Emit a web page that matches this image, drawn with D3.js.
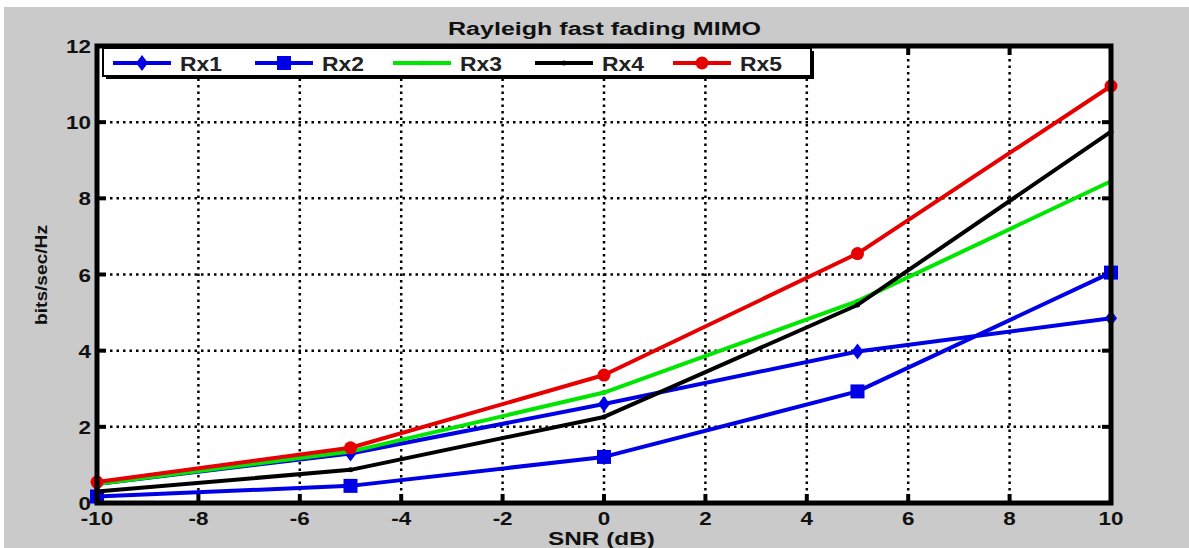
<!DOCTYPE html>
<html>
    <head>
        <title>Rayleigh fast fading MIMO</title>
        <script src="https://d3js.org/d3.v7.min.js"></script>
    </head>

    <body>
        <div id="root"></div>
    </body>

    <style>
body {
    margin: 0;
    background: #ffffff;
}
svg {
    display: block;
}
svg text {
    font-family: "Liberation Sans", Arial, sans-serif;
    font-weight: bold;
}
    </style>

    <script>
        let snr = [-10, -5, 0, 5, 10];
        let rx1 = [0.50, 1.30, 2.60, 3.98, 4.85];
        let rx2 = [0.17, 0.45, 1.21, 2.93, 6.05];
        let rx3 = [0.50, 1.35, 2.90, 5.30, 8.45];
        let rx4 = [0.30, 0.87, 2.26, 5.20, 9.75];
        let rx5 = [0.55, 1.45, 3.36, 6.55, 10.95];
        let series_names = ['Rx1', 'Rx2', 'Rx3', 'Rx4', 'Rx5'];
        let x_ticks = [-10, -8, -6, -4, -2, 0, 2, 4, 6, 8, 10];
        let y_ticks = [0, 2, 4, 6, 8, 10, 12];

        let series = [
            { name: series_names[0], values: rx1, color: '#0000e6', marker: 'diamond' },
            { name: series_names[1], values: rx2, color: '#0000e6', marker: 'square' },
            { name: series_names[2], values: rx3, color: '#00e600', marker: 'dot' },
            { name: series_names[3], values: rx4, color: '#000000', marker: 'dot' },
            { name: series_names[4], values: rx5, color: '#e60000', marker: 'circle' }
        ];

        let render_chart = () => {
            let width = 1189;
            let height = 548;
            let left = 97, right = 1111, top = 46, bottom = 503;
            let stretch = 1.18;

            let scale_x = d3.scaleLinear().domain([-10, 10]).range([left, right]);
            let scale_y = d3.scaleLinear().domain([0, 12]).range([bottom, top]);

            let svg = d3.select('#root').html('')
                .append('svg')
                .attr('width', width)
                .attr('height', height);

            // figure background
            svg.append('rect')
                .attr('x', 4).attr('y', 7)
                .attr('width', width - 4).attr('height', height - 7)
                .attr('fill', '#cacaca');

            svg.append('rect')
                .attr('x', left).attr('y', top)
                .attr('width', right - left).attr('height', bottom - top)
                .attr('fill', '#ffffff');

            // grid
            let grid = svg.append('g')
                .attr('stroke', '#000')
                .attr('stroke-width', 2.5)
                .attr('stroke-dasharray', '2.5,4');
            grid.selectAll('line.gx')
                .data(x_ticks.slice(1, -1))
                .join('line')
                .attr('class', 'gx')
                .attr('x1', d => scale_x(d)).attr('x2', d => scale_x(d))
                .attr('y1', top).attr('y2', bottom);
            grid.selectAll('line.gy')
                .data(y_ticks.slice(1, -1))
                .join('line')
                .attr('class', 'gy')
                .attr('x1', left).attr('x2', right)
                .attr('y1', d => scale_y(d)).attr('y2', d => scale_y(d));

            // inner ticks on all four sides
            let ticks = svg.append('g').attr('stroke', '#000').attr('stroke-width', 4);
            x_ticks.forEach(t => {
                ticks.append('line').attr('x1', scale_x(t)).attr('x2', scale_x(t)).attr('y1', bottom).attr('y2', bottom - 9);
                ticks.append('line').attr('x1', scale_x(t)).attr('x2', scale_x(t)).attr('y1', top).attr('y2', top + 9);
            });
            y_ticks.forEach(t => {
                ticks.append('line').attr('x1', left).attr('x2', left + 9).attr('y1', scale_y(t)).attr('y2', scale_y(t));
                ticks.append('line').attr('x1', right).attr('x2', right - 9).attr('y1', scale_y(t)).attr('y2', scale_y(t));
            });

            // lines
            let line = d3.line()
                .x((d, i) => scale_x(snr[i]))
                .y(d => scale_y(d));

            let draw_marker = (g, kind, x, y, color) => {
                if (kind === 'diamond') {
                    g.append('path')
                        .attr('d', `M${x},${y - 8}L${x + 6},${y}L${x},${y + 8}L${x - 6},${y}Z`)
                        .attr('fill', color);
                } else if (kind === 'square') {
                    g.append('rect')
                        .attr('x', x - 7).attr('y', y - 7)
                        .attr('width', 14).attr('height', 14)
                        .attr('fill', color);
                } else if (kind === 'circle') {
                    g.append('circle').attr('cx', x).attr('cy', y).attr('r', 6.5).attr('fill', color);
                } else {
                    g.append('circle').attr('cx', x).attr('cy', y).attr('r', 2.5).attr('fill', color);
                }
            };

            let plot = svg.append('g');
            series.forEach(s => {
                plot.append('path')
                    .datum(s.values)
                    .attr('d', line)
                    .attr('fill', 'none')
                    .attr('stroke', s.color)
                    .attr('stroke-width', 4)
                    .attr('stroke-linejoin', 'round');
                let mg = plot.append('g');
                s.values.forEach((v, i) => draw_marker(mg, s.marker, scale_x(snr[i]), scale_y(v), s.color));
            });

            // axes box
            svg.append('rect')
                .attr('x', left).attr('y', top)
                .attr('width', right - left).attr('height', bottom - top)
                .attr('fill', 'none')
                .attr('stroke', '#000')
                .attr('stroke-width', 5);

            // tick labels (the original figure is slightly stretched sideways)
            svg.append('g')
                .selectAll('text')
                .data(x_ticks)
                .join('text')
                .attr('transform', d => `translate(${scale_x(d)}, 525) scale(${stretch}, 1)`)
                .attr('text-anchor', 'middle')
                .attr('font-size', 19)
                .attr('fill', '#111')
                .text(d => d);
            svg.append('g')
                .selectAll('text')
                .data(y_ticks)
                .join('text')
                .attr('transform', d => `translate(91, ${scale_y(d) + 7}) scale(${stretch}, 1)`)
                .attr('text-anchor', 'end')
                .attr('font-size', 19)
                .attr('fill', '#111')
                .text(d => d);

            // titles
            svg.append('text')
                .attr('x', 448).attr('y', 35)
                .attr('font-size', 18)
                .attr('textLength', 313)
                .attr('lengthAdjust', 'spacingAndGlyphs')
                .attr('fill', '#111')
                .text('Rayleigh fast fading MIMO');
            svg.append('text')
                .attr('x', 548).attr('y', 545)
                .attr('font-size', 18)
                .attr('textLength', 107)
                .attr('lengthAdjust', 'spacingAndGlyphs')
                .attr('fill', '#111')
                .text('SNR (dB)');
            svg.append('text')
                .attr('transform', 'translate(47, 325) rotate(-90)')
                .attr('font-size', 17)
                .attr('textLength', 100)
                .attr('lengthAdjust', 'spacingAndGlyphs')
                .attr('fill', '#111')
                .text('bits/sec/Hz');

            // legend
            let lg = svg.append('g');
            lg.append('rect')
                .attr('x', 106).attr('y', 51)
                .attr('width', 708).attr('height', 28)
                .attr('fill', '#000');
            lg.append('rect')
                .attr('x', 103).attr('y', 48)
                .attr('width', 708).attr('height', 28)
                .attr('fill', '#fff')
                .attr('stroke', '#000')
                .attr('stroke-width', 2);
            let legend_x = [113, 255, 393, 535, 673];
            series.forEach((s, i) => {
                let x0 = legend_x[i];
                lg.append('line')
                    .attr('x1', x0).attr('x2', x0 + 58)
                    .attr('y1', 63).attr('y2', 63)
                    .attr('stroke', s.color)
                    .attr('stroke-width', 4);
                draw_marker(lg, s.marker, x0 + 29, 63, s.color);
                lg.append('text')
                    .attr('x', x0 + 67).attr('y', 71)
                    .attr('font-size', 21)
                    .attr('textLength', 42)
                    .attr('lengthAdjust', 'spacingAndGlyphs')
                    .attr('fill', '#222')
                    .text(s.name);
            });
        };

        render_chart();
    </script>
</html>
